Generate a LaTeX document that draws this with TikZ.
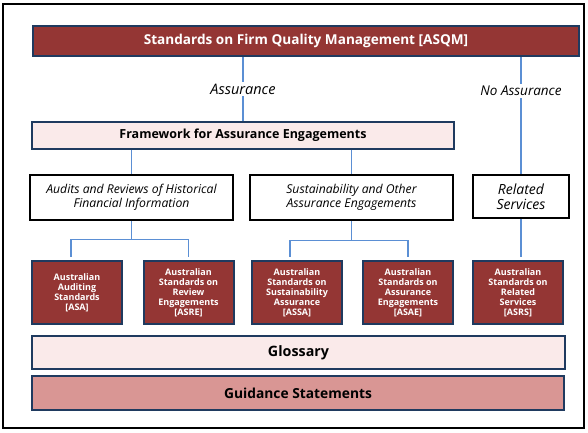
\documentclass[tikz,border=0pt]{standalone}
\usepackage{fontspec}
\setmainfont{Open Sans}
\usetikzlibrary{positioning}
\definecolor{asqmred}{HTML}{943634}
\definecolor{navy}{HTML}{1F3A5F}
\definecolor{guidepink}{HTML}{D99694}
\definecolor{hatchpink}{HTML}{FAEAEA}
\definecolor{linkblue}{HTML}{5B8FD4}

\begin{document}
\begin{tikzpicture}[x=1pt,y=-1pt]

\tikzset{banner/.style = {draw=navy,line width=2pt,fill=asqmred,text=white,font=\fontsize{13.6}{16}\selectfont\bfseries,inner sep=0pt}}
\tikzset{band/.style = {draw=navy,line width=2pt,fill=hatchpink,font=\fontsize{12.5}{15}\selectfont\bfseries,inner sep=0pt}}
\tikzset{group/.style = {draw=black,line width=2.2pt,fill=white,align=center,font=\fontsize{12.2}{13.5}\selectfont\itshape,inner sep=0pt}}
\tikzset{stdbox/.style = {draw=navy,line width=2pt,fill=asqmred,text=white,align=center,minimum width=90pt,minimum height=63pt,font=\fontsize{9}{10}\selectfont\bfseries,inner sep=0pt}}
\tikzset{link/.style = {draw=linkblue,line width=1.2pt}}
\tikzset{tag/.style = {fill=white,font=\fontsize{13.5}{15}\selectfont\itshape,inner sep=2pt}}

\useasboundingbox (0,0) rectangle (588,432);
\draw[line width=1.5pt] (3,4) rectangle (584,428);

%top and bands
\node[banner, minimum width=546pt, minimum height=30pt] (asqm) at (306,41) {Standards on Firm Quality Management [ASQM]};
\node[band, minimum width=422pt, minimum height=27pt] (framework) at (243,135.5) {Framework for Assurance Engagements};
\node[band, minimum width=533pt, minimum height=33pt, font=\fontsize{14.3}{16}\selectfont\bfseries] (glossary) at (298.5,352.5) {Glossary};
\node[band, fill=guidepink, minimum width=532pt, minimum height=34pt, font=\fontsize{13.8}{16}\selectfont\bfseries] (guidance) at (298,393) {Guidance Statements};

%groups
\node[group, minimum width=203pt, minimum height=45pt] (audits) at (131.5,197.5) {Audits and Reviews of Historical\\Financial Information};
\node[group, minimum width=203pt, minimum height=45pt] (sustain) at (351.5,197.5) {Sustainability and Other\\Assurance Engagements};
\node[group, minimum width=96pt, minimum height=43pt, font=\fontsize{14}{15}\selectfont\itshape] (related) at (521,196.5) {Related\\Services};

%standards
\node[stdbox] (asa) at (77,292.5) {Australian\\Auditing\\Standards\\{[ASA]}};
\node[stdbox] (asre) at (188.5,292.5) {Australian\\Standards on\\Review\\Engagements\\{[ASRE]}};
\node[stdbox] (assa) at (297,292.5) {Australian\\Standards on\\Sustainability\\Assurance\\{[ASSA]}};
\node[stdbox] (asae) at (408,292.5) {Australian\\Standards on\\Assurance\\Engagements\\{[ASAE]}};
\node[stdbox] (asrs) at (518,292.5) {Australian\\Standards on\\Related\\Services\\{[ASRS]}};

%edges
\draw[link] (asqm.south -| framework.north) -- node[tag, font=\fontsize{14.5}{16}\selectfont\itshape] {Assurance} (framework.north);
\draw[link] (asqm.south -| related.north) -- node[tag, pos=0.29] {No Assurance} (related.north);
\draw[link] (audits.north) -- (audits.north |- framework.south);
\draw[link] (sustain.north) -- (sustain.north |- framework.south);
\draw[link] (audits.south) -- ++(0,18) coordinate (fork1);
\draw[link, shorten >=3pt] (fork1) -| ([xshift=-6pt]asa.north);
\draw[link, shorten >=3pt] (fork1) -| (asre.north);
\draw[link] (sustain.south) -- ++(0,19) coordinate (fork2);
\draw[link, shorten >=3pt] (fork2) -| ([xshift=-7pt]assa.north);
\draw[link, shorten >=3pt] (fork2) -| (asae.north);
\draw[link, shorten >=3pt] (related.south) -- (related.south |- asrs.north);

\end{tikzpicture}
\end{document}
